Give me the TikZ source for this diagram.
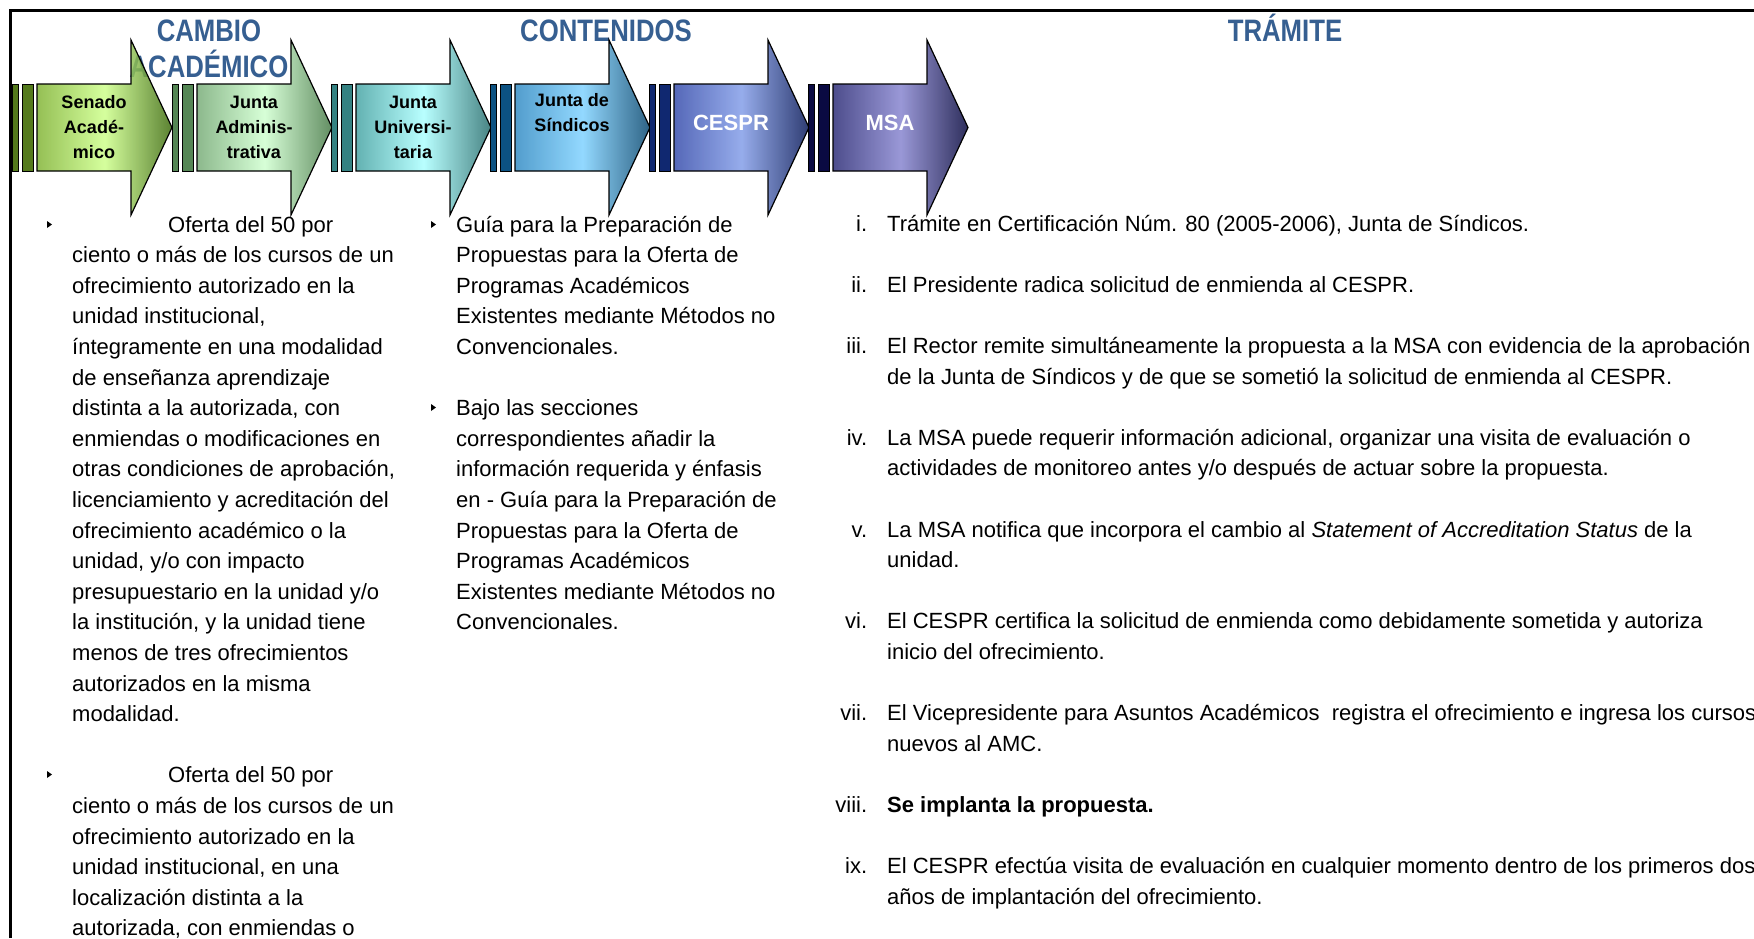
\documentclass[tikz,border=0pt]{standalone}
\usepackage{fontspec}
\setmainfont{Liberation Sans}
\newfontfamily\headfont[FakeStretch=0.83]{Liberation Sans}
\usepackage{tikz}

\definecolor{hdrblue}{RGB}{54,95,145}
\definecolor{gAl}{RGB}{130,180,55}  \definecolor{gAm}{RGB}{206,255,140} \definecolor{gAr}{RGB}{62,108,14}  \definecolor{gAb}{RGB}{84,122,28}
\definecolor{gBl}{RGB}{120,172,120} \definecolor{gBm}{RGB}{208,255,208} \definecolor{gBr}{RGB}{72,122,72}  \definecolor{gBb}{RGB}{84,134,84}
\definecolor{gCl}{RGB}{72,164,164}  \definecolor{gCm}{RGB}{172,255,255} \definecolor{gCr}{RGB}{40,110,110} \definecolor{gCb}{RGB}{52,130,130}
\definecolor{gDl}{RGB}{52,140,196}  \definecolor{gDm}{RGB}{128,210,255} \definecolor{gDr}{RGB}{10,72,112}  \definecolor{gDb}{RGB}{12,82,130}
\definecolor{gEl}{RGB}{56,78,172}   \definecolor{gEm}{RGB}{132,158,232} \definecolor{gEr}{RGB}{10,26,90}   \definecolor{gEb}{RGB}{16,40,112}
\definecolor{gFl}{RGB}{46,46,120}   \definecolor{gFm}{RGB}{136,134,208} \definecolor{gFr}{RGB}{10,10,64}   \definecolor{gFb}{RGB}{10,10,66}

\newcommand\stepno[1]{\leavevmode\llap{#1\hspace{20pt}}}

\begin{document}
\begin{tikzpicture}[
  x=1pt, y=1pt,
  header/.style={anchor=base, inner sep=0pt, text=hdrblue, font=\headfont\bfseries\fontsize{31}{36}\selectfont},
  stage/.style={draw=black, line width=1.2pt, fill opacity=0.85},
  bar/.style={draw=black, line width=1pt},
  stagelabel/.style={align=center, inner sep=0pt, font=\bfseries\fontsize{18}{25}\selectfont},
  stagewhite/.style={align=center, inner sep=0pt, text=white, font=\bfseries\fontsize{22}{25}\selectfont},
  bodytext/.style={anchor=base west, inner sep=0pt, font=\fontsize{22}{30.6}\selectfont},
  bullet/.style={fill=black}
]
\useasboundingbox (0,0) rectangle (1754,-938);
\clip (0,0) rectangle (1754,-938);

% frame
\draw[line width=3.5pt] (10.5,-938) -- (10.5,-10.5) -- (1754,-10.5);

% headers
\node[header] (cambio) at (209,-41) {\parbox[t]{230pt}{\centering CAMBIO\\ACADÉMICO}};
\node[header] (contenidos) at (606,-41) {CONTENIDOS};
\node[header] (tramite) at (1285,-41) {TRÁMITE};

% stages
\draw[bar, fill=gAb] (12,-84) rectangle ++(6,-87) (22,-84) rectangle ++(11,-87);
\draw[stage, left color=gAl, right color=gAr, middle color=gAm] (37,-84) -- ++(94,0) -- ++(0,44) -- ++(41,-87.5) -- ++(-41,-87.5) -- ++(0,44) -- ++(-94,0) -- cycle;
\draw[bar, fill=gBb] (172,-84) rectangle ++(6,-87) (182,-84) rectangle ++(11,-87);
\draw[stage, left color=gBl, right color=gBr, middle color=gBm] (197,-84) -- ++(94,0) -- ++(0,44) -- ++(41,-87.5) -- ++(-41,-87.5) -- ++(0,44) -- ++(-94,0) -- cycle;
\draw[bar, fill=gCb] (331,-84) rectangle ++(6,-87) (341,-84) rectangle ++(11,-87);
\draw[stage, left color=gCl, right color=gCr, middle color=gCm] (356,-84) -- ++(94,0) -- ++(0,44) -- ++(41,-87.5) -- ++(-41,-87.5) -- ++(0,44) -- ++(-94,0) -- cycle;
\draw[bar, fill=gDb] (490,-84) rectangle ++(6,-87) (500,-84) rectangle ++(11,-87);
\draw[stage, left color=gDl, right color=gDr, middle color=gDm] (515,-84) -- ++(94,0) -- ++(0,44) -- ++(41,-87.5) -- ++(-41,-87.5) -- ++(0,44) -- ++(-94,0) -- cycle;
\draw[bar, fill=gEb] (649,-84) rectangle ++(6,-87) (659,-84) rectangle ++(11,-87);
\draw[stage, left color=gEl, right color=gEr, middle color=gEm] (674,-84) -- ++(94,0) -- ++(0,44) -- ++(41,-87.5) -- ++(-41,-87.5) -- ++(0,44) -- ++(-94,0) -- cycle;
\draw[bar, fill=gFb] (808,-84) rectangle ++(6,-87) (818,-84) rectangle ++(11,-87);
\draw[stage, left color=gFl, right color=gFr, middle color=gFm] (833,-84) -- ++(94,0) -- ++(0,44) -- ++(41,-87.5) -- ++(-41,-87.5) -- ++(0,44) -- ++(-94,0) -- cycle;

\node[stagelabel] (senado) at (94,-127) {Senado\\Acadé-\\mico};
\node[stagelabel] (admin) at (254,-127) {Junta\\Adminis-\\trativa};
\node[stagelabel] (univ) at (413,-127) {Junta\\Universi-\\taria};
\node[stagelabel] (sindicos) at (572,-113) {Junta de\\Síndicos};
\node[stagewhite] (cespr) at (731,-123) {CESPR};
\node[stagewhite] (msa) at (890,-123) {MSA};

% cambio academico
\fill[bullet] (47,-221) -- (52,-224.5) -- (47,-228) -- cycle;
\fill[bullet] (47,-771) -- (52,-774.5) -- (47,-778) -- cycle;
\node[bodytext] (ofertas) at (72,-232) {\parbox[t]{400pt}{\raggedright
\hspace*{96pt}Oferta del 50 por\\
ciento o más de los cursos de un\\
ofrecimiento autorizado en la\\
unidad institucional,\\
íntegramente en una modalidad\\
de enseñanza aprendizaje\\
distinta a la autorizada, con\\
enmiendas o modificaciones en\\
otras condiciones de aprobación,\\
licenciamiento y acreditación del\\
ofrecimiento académico o la\\
unidad, y/o con impacto\\
presupuestario en la unidad y/o\\
la institución, y la unidad tiene\\
menos de tres ofrecimientos\\
autorizados en la misma\\
modalidad.\\[30.6pt]
\hspace*{96pt}Oferta del 50 por\\
ciento o más de los cursos de un\\
ofrecimiento autorizado en la\\
unidad institucional, en una\\
localización distinta a la\\
autorizada, con enmiendas o}};

% contenidos
\fill[bullet] (431,-221) -- (436,-224.5) -- (431,-228) -- cycle;
\fill[bullet] (431,-404) -- (436,-407.5) -- (431,-411) -- cycle;
\node[bodytext] (guias) at (456,-232) {\parbox[t]{400pt}{\raggedright
Guía para la Preparación de\\
Propuestas para la Oferta de\\
Programas Académicos\\
Existentes mediante Métodos no\\
Convencionales.\\[30.6pt]
Bajo las secciones\\
correspondientes añadir la\\
información requerida y énfasis\\
en - Guía para la Preparación de\\
Propuestas para la Oferta de\\
Programas Académicos\\
Existentes mediante Métodos no\\
Convencionales.}};

% tramite
\node[bodytext] (pasos) at (887,-231) {\parbox[t]{900pt}{\raggedright
\stepno{i.}Trámite en Certificación Núm. 80 (2005-2006), Junta de Síndicos.\\[30.6pt]
\stepno{ii.}El Presidente radica solicitud de enmienda al CESPR.\\[30.6pt]
\stepno{iii.}El Rector remite simultáneamente la propuesta a la MSA con evidencia de la aprobación\\
de la Junta de Síndicos y de que se sometió la solicitud de enmienda al CESPR.\\[30.6pt]
\stepno{iv.}La MSA puede requerir información adicional, organizar una visita de evaluación o\\
actividades de monitoreo antes y/o después de actuar sobre la propuesta.\\[30.6pt]
\stepno{v.}La MSA notifica que incorpora el cambio al \textit{Statement of Accreditation Status} de la\\
unidad.\\[30.6pt]
\stepno{vi.}El CESPR certifica la solicitud de enmienda como debidamente sometida y autoriza\\
inicio del ofrecimiento.\\[30.6pt]
\stepno{vii.}El Vicepresidente para Asuntos Académicos\ \ registra el ofrecimiento e ingresa los cursos\\
nuevos al AMC.\\[30.6pt]
\stepno{viii.}\textbf{Se implanta la propuesta.}\\[30.6pt]
\stepno{ix.}El CESPR efectúa visita de evaluación en cualquier momento dentro de los primeros dos\\
años de implantación del ofrecimiento.}};
\end{tikzpicture}
\end{document}
